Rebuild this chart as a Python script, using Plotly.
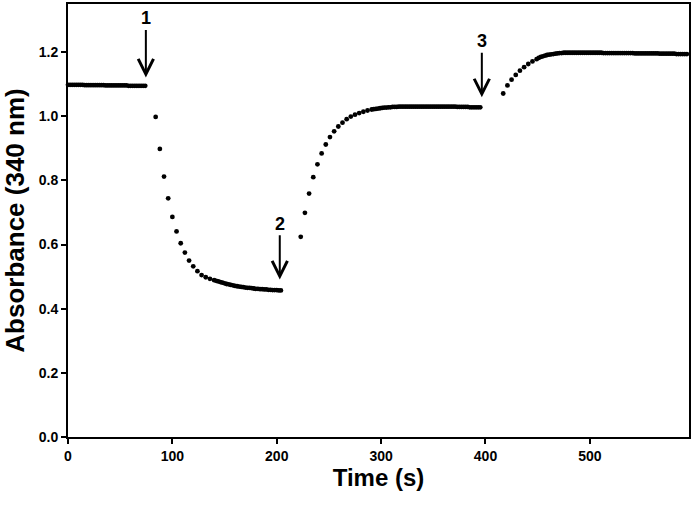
import plotly.graph_objects as go

# ---- data ----
time_1 = [0, 2, 4, 6, 8, 10, 12, 14, 16, 18, 20, 22, 24, 26, 28, 30, 32, 34, 36, 38,
          40, 42, 44, 46, 48, 50, 52, 54, 56, 58, 60, 62, 64, 66, 68, 70, 72, 74]
abs_1 = [1.098, 1.098, 1.098, 1.098, 1.098, 1.098, 1.098, 1.098, 1.097, 1.097,
         1.097, 1.097, 1.097, 1.097, 1.097, 1.097, 1.097, 1.097, 1.096, 1.096,
         1.096, 1.096, 1.096, 1.096, 1.096, 1.096, 1.096, 1.096, 1.096, 1.095,
         1.095, 1.095, 1.095, 1.095, 1.095, 1.095, 1.095, 1.095]

time_2 = [84, 88, 92, 96, 100, 104, 108, 112, 116, 120, 124, 128, 132, 136, 140,
          142, 144, 146, 148, 150, 152, 154, 156, 158, 160, 162, 164, 166, 168, 170,
          172, 174, 176, 178, 180, 182, 184, 186, 188, 190, 192, 194, 196, 198, 200,
          202, 204]
abs_2 = [0.998, 0.898, 0.812, 0.744, 0.686, 0.641, 0.604, 0.575, 0.550, 0.532,
         0.517, 0.505, 0.498, 0.493, 0.489,
         0.487, 0.485, 0.483, 0.481, 0.479, 0.477, 0.476, 0.474, 0.473, 0.471,
         0.470, 0.469, 0.468, 0.467, 0.466, 0.465, 0.465, 0.464, 0.463, 0.462,
         0.462, 0.461, 0.461, 0.460, 0.460, 0.459, 0.459, 0.458, 0.458, 0.458,
         0.457, 0.457]

time_3 = [223, 227, 231, 235, 239, 243, 247, 251, 255, 259, 263, 267, 271, 275, 279,
          283, 287, 291,
          293, 295, 297, 299, 301, 303, 305, 307, 309, 311, 313, 315, 317, 319, 321,
          323, 325, 327, 329, 331, 333, 335, 337, 339, 341, 343, 345, 347, 349, 351,
          353, 355, 357, 359, 361, 363, 365, 367, 369, 371, 373, 375, 377, 379, 381,
          383, 385, 387, 389, 391, 393, 395]
abs_3 = [0.624, 0.699, 0.759, 0.810, 0.850, 0.884, 0.912, 0.935, 0.953, 0.968,
         0.980, 0.991, 0.999, 1.005, 1.010, 1.014, 1.018, 1.021,
         1.022, 1.023, 1.024, 1.025, 1.026, 1.027, 1.027, 1.028, 1.028, 1.029,
         1.029, 1.029, 1.030, 1.030, 1.030, 1.030, 1.030, 1.030, 1.030, 1.030,
         1.030, 1.030, 1.030, 1.030, 1.030, 1.030, 1.030, 1.030, 1.030, 1.030,
         1.030, 1.030, 1.030, 1.030, 1.030, 1.030, 1.030, 1.030, 1.030, 1.030,
         1.029, 1.029, 1.029, 1.029, 1.029, 1.029, 1.028, 1.028, 1.028, 1.028,
         1.028, 1.028]

time_4 = [417, 421, 425, 429, 433, 437, 441, 445, 449,
          451, 453, 455, 457, 459, 461, 463, 465, 467, 469, 471, 473, 475, 477, 479,
          481, 483, 485, 487, 489, 491, 493, 495, 497, 499, 501, 503, 505, 507, 509,
          511, 513, 515, 517, 519, 521, 523, 525, 527, 529, 531, 533, 535, 537, 539,
          541, 543, 545, 547, 549, 551, 553, 555, 557, 559, 561, 563, 565, 567, 569,
          571, 573, 575, 577, 579, 581, 583, 585, 587, 589, 591, 593]
abs_4 = [1.071, 1.096, 1.114, 1.129, 1.142, 1.153, 1.163, 1.171, 1.178,
         1.182, 1.185, 1.187, 1.189, 1.191, 1.192, 1.193, 1.194, 1.195, 1.196,
         1.197, 1.197, 1.198, 1.198, 1.198, 1.198,
         1.198, 1.198, 1.198, 1.198, 1.198, 1.198, 1.198, 1.198, 1.198, 1.198,
         1.198, 1.198, 1.198, 1.198, 1.198,
         1.197, 1.197, 1.197, 1.197, 1.197, 1.197, 1.197, 1.197, 1.197, 1.197,
         1.197, 1.197, 1.197, 1.197, 1.197,
         1.196, 1.196, 1.196, 1.196, 1.196, 1.196, 1.196, 1.196, 1.196, 1.196,
         1.196, 1.196,
         1.195, 1.195, 1.195, 1.195, 1.195, 1.195, 1.195, 1.195,
         1.194, 1.194, 1.194, 1.194, 1.194, 1.194]

# arrows: (label, time, tip absorbance, label absorbance)
arrow_labels = ["1", "2", "3"]
arrow_time = [74.6, 202.9, 396.5]
arrow_tip = [1.121, 0.491, 1.059]
arrow_label_y = [1.305, 0.665, 1.234]

x_ticks = [0, 100, 200, 300, 400, 500]
y_ticks = [0.0, 0.2, 0.4, 0.6, 0.8, 1.0, 1.2]

FONT = "Liberation Sans, Arial, sans-serif"

fig = go.Figure()
fig.add_trace(go.Scatter(
    x=time_1 + time_2 + time_3 + time_4,
    y=abs_1 + abs_2 + abs_3 + abs_4,
    mode="markers",
    marker=dict(color="black", size=4.8, line=dict(width=0)),
    showlegend=False,
    cliponaxis=False,
))

for lab, t, tip, ly in zip(arrow_labels, arrow_time, arrow_tip, arrow_label_y):
    fig.add_annotation(
        x=t, y=tip, xref="x", yref="y",
        ax=t, ay=ly, axref="x", ayref="y",
        text="<b>" + lab + "</b>",
        font=dict(family=FONT, size=18, color="black"),
        showarrow=True, arrowhead=5, arrowsize=1.5, arrowwidth=2,
        arrowcolor="black", standoff=0, startstandoff=0,
    )

axis_common = dict(
    showline=True, linecolor="black", linewidth=2, mirror=True,
    ticks="outside", tickcolor="black", ticklen=5, tickwidth=1.5,
    showgrid=False, zeroline=False, automargin=False,
    tickfont=dict(family=FONT, size=14, color="black"),
)

fig.update_layout(
    width=693, height=507,
    margin=dict(l=68, r=4, t=4, b=70),
    paper_bgcolor="white", plot_bgcolor="white",
    xaxis=dict(range=[0, 595], tickvals=x_ticks,
               ticktext=[f"<b>{v}</b>" for v in x_ticks],
               title=dict(text="<b>Time (s)</b>", standoff=5,
                          font=dict(family=FONT, size=24, color="black")),
               **axis_common),
    yaxis=dict(range=[0, 1.35], tickvals=y_ticks,
               ticktext=[f"<b>{v:.1f}</b>" for v in y_ticks],
               title=dict(text="<b>Absorbance (340 nm)</b>", standoff=10,
                          font=dict(family=FONT, size=26, color="black")),
               **axis_common),
)

fig.write_html("out.html",
               config={"displayModeBar": False},
               post_script="document.body.style.margin='0';document.body.style.overflow='hidden';")
